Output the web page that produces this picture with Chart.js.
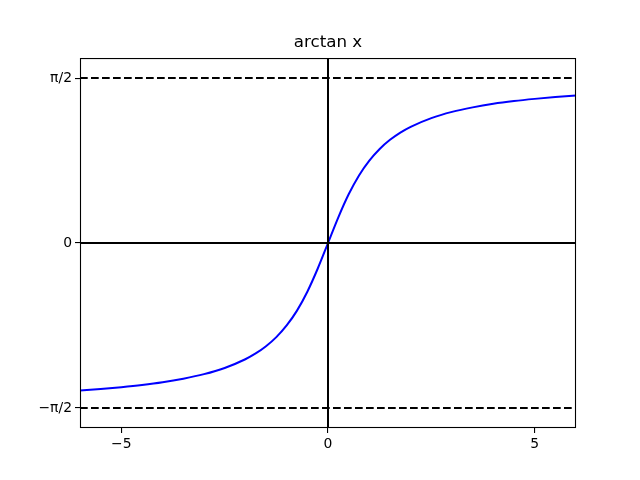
<!DOCTYPE html>
<html>
<head>
<meta charset="utf-8">
<script src="https://cdn.jsdelivr.net/npm/chart.js@4"></script>
<style>
  html, body { margin: 0; padding: 0; background: #fff; }
  #wrap { width: 640px; height: 480px; }
</style>
</head>
<body>
<div id="wrap"><canvas id="chart" width="640" height="480"></canvas></div>
<script>
// values
const xs = [-6, -5.5, -5, -4.5, -4, -3.5, -3, -2.5, -2, -1.75, -1.5, -1.25, -1, -0.75, -0.5, -0.25, 0,
            0.25, 0.5, 0.75, 1, 1.25, 1.5, 1.75, 2, 2.5, 3, 3.5, 4, 4.5, 5, 5.5, 6]
const ys = [-1.406, -1.391, -1.373, -1.352, -1.326, -1.292, -1.249, -1.190, -1.107, -1.052, -0.983, -0.896, -0.785, -0.644, -0.464, -0.245, 0,
            0.245, 0.464, 0.644, 0.785, 0.896, 0.983, 1.052, 1.107, 1.190, 1.249, 1.292, 1.326, 1.352, 1.373, 1.391, 1.406]

const xTicks = [-5, 0, 5]
const yTicks = [-Math.PI / 2, 0, Math.PI / 2]
const yTickLabels = ['\u2212\u03c0/2', '0', '\u03c0/2']
const asymptotes = [-Math.PI / 2, Math.PI / 2]
const xRange = [-6, 6]
const yRange = [-1.762, 1.762]

const frame = {
  id: 'frame',
  afterDatasetsDraw(chart) {
    const { ctx, chartArea: a } = chart
    ctx.save()
    ctx.strokeStyle = '#000'
    ctx.lineWidth = 1.1
    ctx.strokeRect(a.left + 0.5, a.top + 0.5, a.right - a.left - 1, a.bottom - a.top - 1)
    ctx.restore()
  }
}

const line = (pts, dash) => ({
  data: pts,
  borderColor: '#000',
  borderWidth: 2,
  borderDash: dash || [],
  pointRadius: 0,
  fill: false
})

new Chart(document.getElementById('chart'), {
  type: 'line',
  data: {
    datasets: [
      ...asymptotes.map(v => line([{ x: xRange[0], y: v }, { x: xRange[1], y: v }], [7.7, 3.3])),
      line([{ x: xRange[0], y: 0 }, { x: xRange[1], y: 0 }]),
      line([{ x: 0, y: yRange[0] }, { x: 0, y: yRange[1] }]),
      {
        data: xs.map((x, i) => ({ x, y: ys[i] })),
        borderColor: '#0000ff',
        borderWidth: 2,
        pointRadius: 0,
        cubicInterpolationMode: 'monotone',
        fill: false
      }
    ]
  },
  options: {
    responsive: false,
    animation: false,
    layout: { padding: { left: 0, right: 64, top: 0, bottom: 19 } },
    plugins: {
      legend: { display: false },
      tooltip: { enabled: false },
      title: {
        display: true,
        text: 'arctan x',
        fullSize: false,
        color: '#000',
        font: { family: 'DejaVu Sans', size: 16.7, weight: 'normal', lineHeight: 1.2 },
        padding: { top: 33, bottom: 5 }
      }
    },
    scales: {
      x: {
        type: 'linear',
        min: xRange[0],
        max: xRange[1],
        afterBuildTicks: s => { s.ticks = xTicks.map(v => ({ value: v })) },
        afterFit: s => { s.height = 33 },
        border: { display: false },
        grid: { drawOnChartArea: false, drawTicks: true, tickLength: 5, color: '#000', lineWidth: 1.1 },
        ticks: {
          color: '#000',
          padding: 3,
          maxRotation: 0,
          font: { family: 'DejaVu Sans', size: 13.9 },
          callback: v => v < 0 ? '\u2212' + Math.abs(v) : String(v)
        }
      },
      y: {
        type: 'linear',
        min: yRange[0],
        max: yRange[1],
        afterBuildTicks: s => { s.ticks = yTicks.map(v => ({ value: v })) },
        afterFit: s => { s.width = 80 },
        border: { display: false },
        grid: { drawOnChartArea: false, drawTicks: true, tickLength: 5, color: '#000', lineWidth: 1.1 },
        ticks: {
          color: '#000',
          padding: 3,
          font: { family: 'DejaVu Sans', size: 13.9 },
          callback: (v, i) => yTickLabels[i]
        }
      }
    }
  },
  plugins: [frame]
})
</script>
</body>
</html>
